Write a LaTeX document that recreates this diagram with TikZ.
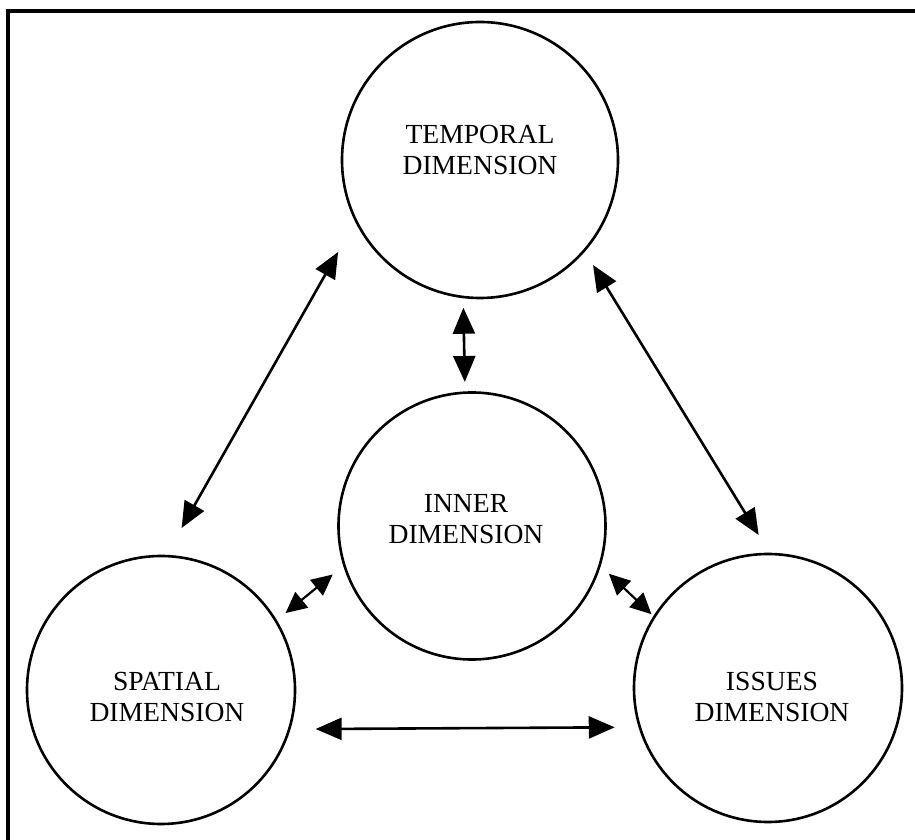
\documentclass[tikz,border=0pt]{standalone}
\usepackage{fontspec}
\setmainfont{Liberation Serif}
\usepackage{tikz}
\usetikzlibrary{arrows.meta, calc}

\tikzset{
  dimcircle/.style={draw, circle, line width=2.6pt, inner sep=0pt, outer sep=0pt},
  dimtext/.style={align=center, font=\fontsize{27.6}{31}\selectfont},
  dimarrow/.style={line width=2.6pt, {Triangle[length=26pt, width=22pt]}-{Triangle[length=26pt, width=22pt]}},
  shortarrow/.style={line width=2.2pt, {Triangle[length=21pt, width=20pt]}-{Triangle[length=21pt, width=20pt]}}
}

\begin{document}
\begin{tikzpicture}[x=1pt, y=1pt]
  \useasboundingbox (0,0) rectangle (915,840);
  % frame (only top and left edge fall inside the page)
  \draw[line width=4pt] (915,829) -- (8,829) -- (8,0);

  % the four dimensions
  \node[dimcircle, minimum size=276pt] (temporal) at (480,680) {};
  \node[dimcircle, minimum size=267pt] (inner) at (472,314) {};
  \node[dimcircle, minimum size=268pt] (spatial) at (161,150) {};
  \node[dimcircle, minimum size=268pt] (issues) at (768,152) {};

  \node[dimtext] (temporal-label) at ($(temporal)+(0,10)$) {TEMPORAL\\DIMENSION};
  \node[dimtext] (inner-label) at ($(inner)+(-6,7)$) {INNER\\DIMENSION};
  \node[dimtext] (spatial-label) at ($(spatial)+(6,-7)$) {SPATIAL\\DIMENSION};
  \node[dimtext] (issues-label) at ($(issues)+(4,-9)$) {ISSUES\\DIMENSION};

  % links
  \draw[dimarrow, shorten <=36.2pt, shorten >=32.3pt] (temporal.206) -- (spatial.88.7);
  \draw[dimarrow, shorten <=17pt, shorten >=22.3pt] (temporal.319) -- (issues.89.3);
  \draw[dimarrow, shorten <=10.8pt, shorten >=10.7pt] (temporal.263.8) -- (inner.93);
  \draw[shortarrow, shorten <=15pt, shorten >=12.5pt] (inner.197.9) -- (spatial.31.7);
  \draw[shortarrow, shorten <=12.7pt, shorten >=4pt] (inner.343.5) -- (issues.148.4);
  \draw[dimarrow, shorten <=26.5pt, shorten >=25.1pt] (spatial.343.5) -- (issues.197.4);
\end{tikzpicture}
\end{document}
